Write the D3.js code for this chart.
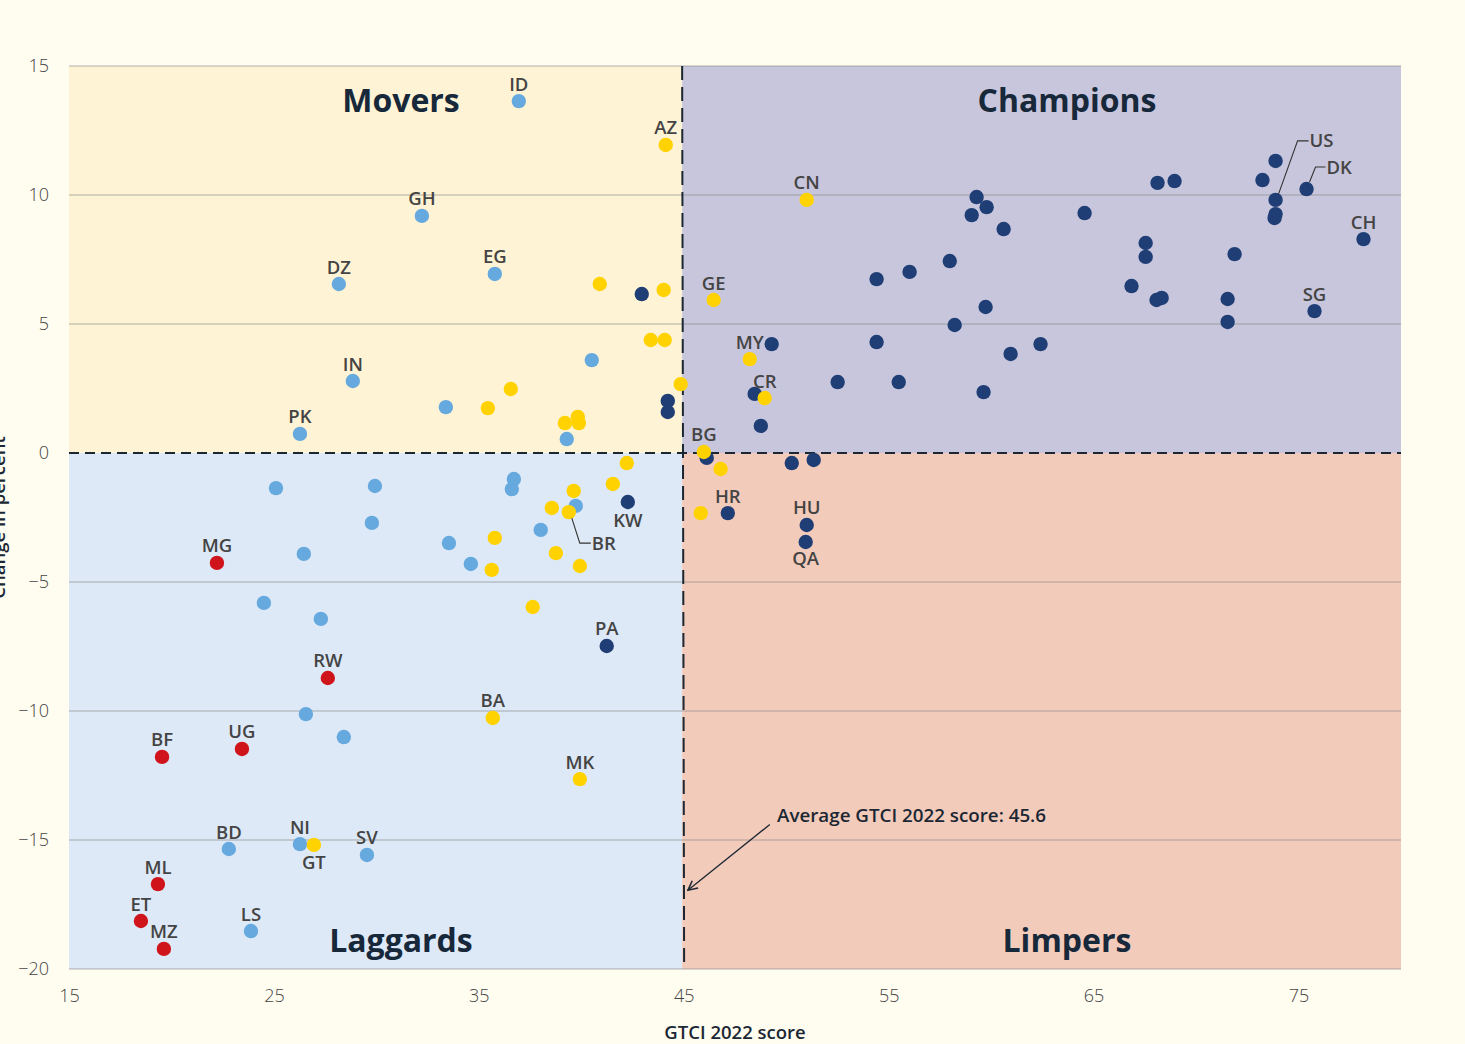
<!DOCTYPE html>
<html>
<head>
<meta charset="utf-8">
<script src="https://cdn.jsdelivr.net/npm/d3@7"></script>
<style>
  html, body { margin: 0; padding: 0; background: #fffcf0; }
  svg { display: block; font-family: "Open Sans", "Noto Sans", sans-serif; }
</style>
</head>
<body>
<div id="chart"></div>
<script>
// Data: [code, GTCI 2022 score, change in percent]; empty code = unlabelled
const lowerMiddle = [
  ['ID', 36.95, 13.64], ['GH', 32.22, 9.19], ['DZ', 28.17, 6.55], ['EG', 35.78, 6.94],
  ['IN', 28.85, 2.79], ['PK', 26.27, 0.74], ['', 33.39, 1.78], ['', 40.51, 3.60],
  ['', 39.29, 0.54], ['', 25.10, -1.36], ['', 29.93, -1.28], ['', 29.78, -2.71],
  ['', 26.46, -3.91], ['', 33.54, -3.49], ['', 34.61, -4.30], ['', 36.71, -1.01],
  ['', 36.61, -1.40], ['', 39.73, -2.05], ['', 38.02, -2.98], ['', 24.51, -5.81],
  ['', 27.29, -6.43], ['', 26.56, -10.12], ['', 28.41, -11.01], ['BD', 22.80, -15.35],
  ['NI', 26.27, -15.16], ['SV', 29.54, -15.58], ['LS', 23.88, -18.53]
];
const lowIncome = [
  ['MG', 22.22, -4.26], ['RW', 27.63, -8.72], ['BF', 19.54, -11.78], ['UG', 23.44, -11.47],
  ['ML', 19.34, -16.71], ['ET', 18.51, -18.14], ['MZ', 19.63, -19.22]
];
const highIncome = [
  ['', 42.95, 6.16], ['', 44.22, 2.02], ['', 44.22, 1.59], ['', 49.29, 4.22],
  ['', 48.46, 2.29], ['', 48.76, 1.05], ['', 46.12, -0.19], ['KW', 42.27, -1.90],
  ['PA', 41.24, -7.48], ['HR', 47.15, -2.33], ['', 50.27, -0.39], ['', 51.34, -0.27],
  ['HU', 51.00, -2.79], ['QA', 50.95, -3.45], ['', 52.51, 2.75], ['', 54.41, 4.30],
  ['', 54.41, 6.74], ['', 56.02, 7.02], ['', 55.49, 2.75], ['', 57.98, 7.44],
  ['', 58.22, 4.96], ['', 59.29, 9.92], ['', 59.05, 9.22], ['', 59.78, 9.53],
  ['', 59.73, 5.66], ['', 59.63, 2.36], ['', 60.61, 8.68], ['', 60.95, 3.84],
  ['', 62.41, 4.22], ['', 64.56, 9.30], ['', 66.85, 6.47], ['', 67.54, 8.14],
  ['', 67.54, 7.60], ['', 68.07, 5.93], ['', 68.32, 6.01], ['', 68.12, 10.47],
  ['', 68.95, 10.54], ['', 71.54, 5.97], ['', 71.54, 5.08], ['', 71.88, 7.71],
  ['', 73.24, 10.58], ['', 73.88, 11.32], ['US', 73.88, 9.81], ['', 73.88, 9.26],
  ['', 73.83, 9.11], ['DK', 75.39, 10.23], ['CH', 78.17, 8.29], ['SG', 75.78, 5.50]
];
const upperMiddle = [
  ['AZ', 44.12, 11.94], ['', 40.90, 6.55], ['', 44.02, 6.32], ['', 43.39, 4.38],
  ['', 44.07, 4.38], ['', 36.56, 2.48], ['', 35.44, 1.74], ['', 44.85, 2.67],
  ['', 39.20, 1.16], ['', 39.83, 1.40], ['', 39.88, 1.16], ['GE', 46.46, 5.93],
  ['CN', 51.00, 9.81], ['MY', 48.22, 3.64], ['CR', 48.95, 2.13], ['BG', 45.98, 0.04],
  ['', 46.80, -0.62], ['', 45.83, -2.33], ['', 42.22, -0.39], ['', 41.54, -1.20],
  ['', 39.63, -1.47], ['', 38.56, -2.13], ['BR', 39.39, -2.29], ['', 35.78, -3.29],
  ['', 38.76, -3.88], ['', 39.93, -4.38], ['', 35.63, -4.53], ['', 37.63, -5.97],
  ['BA', 35.68, -10.27], ['MK', 39.93, -12.64], ['GT', 26.95, -15.19]
];

const average = 44.92;
const xTicks = [15, 25, 35, 45, 55, 65, 75];
const yTicks = [15, 10, 5, 0, -5, -10, -15, -20];
const quadrants = [
  { name: 'Movers', x0: 15, x1: average, y0: 0, y1: 15, tx: 31.2, ty: 13.2, fill: '#fef3d4' },
  { name: 'Champions', x0: average, x1: 80, y0: 0, y1: 15, tx: 63.7, ty: 13.2, fill: '#c8c6dc' },
  { name: 'Laggards', x0: 15, x1: average, y0: -20, y1: 0, tx: 31.2, ty: -19.35, fill: '#dde9f7' },
  { name: 'Limpers', x0: average, x1: 80, y0: -20, y1: 0, tx: 63.7, ty: -19.35, fill: '#f3cbbb' }
];

const width = 1465;
const height = 1044;
const margin = { top: 66, right: 64, bottom: 75, left: 69 };

const svg = d3.select('#chart')
  .append('svg')
  .attr('width', width)
  .attr('height', height);

const x = d3.scaleLinear().domain([15, 80]).range([margin.left, width - margin.right]);
const y = d3.scaleLinear().domain([-20, 15]).range([height - margin.bottom, margin.top]);

// quadrant backgrounds
svg.selectAll('.quad')
  .data(quadrants)
  .enter()
  .append('rect')
  .attr('x', d => x(d.x0))
  .attr('y', d => y(d.y1))
  .attr('width', d => x(d.x1) - x(d.x0))
  .attr('height', d => y(d.y0) - y(d.y1))
  .attr('fill', d => d.fill);

// gridlines
svg.selectAll('.grid')
  .data(yTicks.filter(d => d !== 0))
  .enter()
  .append('line')
  .attr('x1', x(15))
  .attr('x2', x(80))
  .attr('y1', d => y(d))
  .attr('y2', d => y(d))
  .attr('stroke', 'rgba(130,130,130,0.42)')
  .attr('stroke-width', 1.6);

// axes
const yAxis = d3.axisLeft(y).tickValues(yTicks).tickSize(0).tickPadding(20);
const xAxis = d3.axisBottom(x).tickValues(xTicks).tickSize(0).tickPadding(20);

svg.append('g')
  .attr('transform', `translate(${margin.left},0)`)
  .call(yAxis)
  .call(g => g.select('.domain').remove())
  .selectAll('text')
  .attr('font-size', 18)
  .attr('font-weight', 300)
  .attr('fill', '#444')
  .attr('font-family', '"Open Sans", sans-serif');

svg.append('g')
  .attr('transform', `translate(0,${height - margin.bottom})`)
  .call(xAxis)
  .call(g => g.select('.domain').remove())
  .selectAll('text')
  .attr('font-size', 18)
  .attr('font-weight', 300)
  .attr('fill', '#444')
  .attr('font-family', '"Open Sans", sans-serif');

// axis titles
svg.append('text')
  .attr('x', (x(15) + x(80)) / 2)
  .attr('y', 1039)
  .attr('text-anchor', 'middle')
  .attr('font-size', 18.5)
  .attr('font-weight', 600)
  .attr('fill', '#1b2733')
  .text('GTCI 2022 score');

svg.append('text')
  .attr('transform', `translate(5,${(y(15) + y(-20)) / 2}) rotate(-90)`)
  .attr('text-anchor', 'middle')
  .attr('font-size', 18.5)
  .attr('font-weight', 600)
  .attr('fill', '#1b2733')
  .text('Change in percent');

// dashed average and zero lines
svg.append('line')
  .attr('x1', x(15)).attr('x2', x(80))
  .attr('y1', y(0)).attr('y2', y(0))
  .attr('stroke', '#1b2733')
  .attr('stroke-width', 2)
  .attr('stroke-dasharray', '10,6');

svg.append('line')
  .attr('x1', x(average)).attr('x2', x(average) + 2)
  .attr('y1', y(15)).attr('y2', y(-20))
  .attr('stroke', '#1b2733')
  .attr('stroke-width', 2)
  .attr('stroke-dasharray', '14,7');

// quadrant titles
svg.selectAll('.qtitle')
  .data(quadrants)
  .enter()
  .append('text')
  .attr('x', d => x(d.tx))
  .attr('y', d => y(d.ty))
  .attr('text-anchor', 'middle')
  .attr('font-size', 32)
  .attr('font-weight', 700)
  .attr('fill', '#17283a')
  .text(d => d.name);

// annotation
const defs = svg.append('defs');
defs.append('marker')
  .attr('id', 'arrow')
  .attr('viewBox', '0 0 10 10')
  .attr('refX', 9).attr('refY', 5)
  .attr('markerWidth', 9).attr('markerHeight', 9)
  .attr('orient', 'auto')
  .append('path')
  .attr('d', 'M1,1 L9,5 L1,9')
  .attr('fill', 'none')
  .attr('stroke', '#1b2733')
  .attr('stroke-width', 1.3);

svg.append('line')
  .attr('x1', x(49.2)).attr('y1', y(-14.4))
  .attr('x2', x(45.2)).attr('y2', y(-16.95))
  .attr('stroke', '#1b2733')
  .attr('stroke-width', 1.3)
  .attr('marker-end', 'url(#arrow)');

svg.append('text')
  .attr('x', x(49.55))
  .attr('y', y(-14.3))
  .attr('font-size', 18.5)
  .attr('font-weight', 600)
  .attr('fill', '#1b2733')
  .attr('textLength', 269)
  .attr('lengthAdjust', 'spacingAndGlyphs')
  .text('Average GTCI 2022 score: 45.6');

// points
const groups = [
  { rows: lowerMiddle, color: '#66a9de' },
  { rows: lowIncome, color: '#d0141b' },
  { rows: highIncome, color: '#1f3e76' },
  { rows: upperMiddle, color: '#ffd200' }
];

groups.forEach(g => {
  svg.append('g')
    .selectAll('circle')
    .data(g.rows)
    .enter()
    .append('circle')
    .attr('cx', d => x(d[1]))
    .attr('cy', d => y(d[2]))
    .attr('r', 7.2)
    .attr('fill', g.color);
});

// labels
const below = { GT: 24, QA: 23, KW: 25 };
const leaders = {
  BR: [[3, 6], [11, 31], [22, 31]],
  US: [[3, -6], [22, -59], [33, -59]],
  DK: [[3, -7], [9, -22], [19, -22]]
};
const labelled = groups.flatMap(g => g.rows).filter(d => d[0]);

labelled.forEach(d => {
  const px = x(d[1]);
  const py = y(d[2]);
  const code = d[0];
  const t = svg.append('text')
    .attr('font-size', 18.5)
    .attr('font-weight', 600)
    .attr('fill', '#444444')
    .text(code);
  if (leaders[code]) {
    const pts = leaders[code].map(p => [px + p[0], py + p[1]]);
    svg.append('path')
      .attr('d', d3.line()(pts))
      .attr('fill', 'none')
      .attr('stroke', '#333')
      .attr('stroke-width', 1.1);
    const end = pts[pts.length - 1];
    t.attr('x', end[0] + 1).attr('y', end[1] + 6.5).attr('text-anchor', 'start');
  } else if (below[code]) {
    t.attr('x', px).attr('y', py + below[code]).attr('text-anchor', 'middle');
  } else {
    t.attr('x', px).attr('y', py - 10.5).attr('text-anchor', 'middle');
  }
});
</script>
</body>
</html>
